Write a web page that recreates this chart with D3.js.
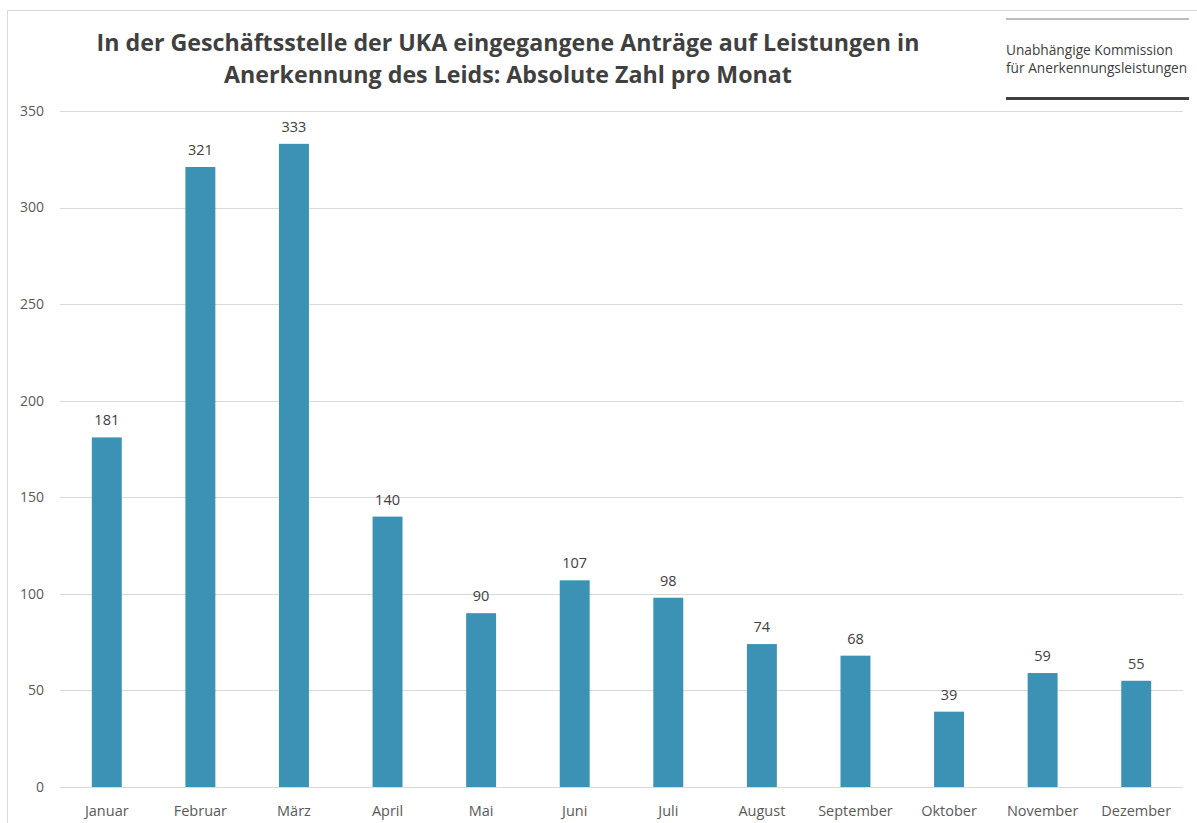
<!DOCTYPE html>
<html>
<head>
<meta charset="utf-8">
<script src="https://cdn.jsdelivr.net/npm/d3@7"></script>
<style>
  body { margin:0; background:#fff; }
  svg { display:block; font-family:"Open Sans", "Noto Sans", sans-serif; }
</style>
</head>
<body>
<svg id="chart" width="1197" height="823"></svg>
<script>
// data
var months = ["Januar","Februar","März","April","Mai","Juni","Juli","August","September","Oktober","November","Dezember"];
var antraege = [181, 321, 333, 140, 90, 107, 98, 74, 68, 39, 59, 55];
var yTicks = [0, 50, 100, 150, 200, 250, 300, 350];
var titleLines = ["In der Geschäftsstelle der UKA eingegangene Anträge auf Leistungen in",
                  "Anerkennung des Leids: Absolute Zahl pro Monat"];
var logoLines = ["Unabhängige Kommission", "für Anerkennungsleistungen"];

var conf = {
    left: 60,
    right: 1183,
    top: 111,
    bottom: 787,
    barColor: "#3b92b4",
    gridColor: "#d9d9d9",
    textColor: "#595959"
};

var svg = d3.select("#chart");

// chart frame
svg.append("rect")
    .attr("x", 7.5).attr("y", 10.5)
    .attr("width", 1200).attr("height", 830)
    .attr("fill", "none")
    .attr("stroke", "#d9d9d9");

var x = d3.scaleBand()
    .domain(months)
    .range([conf.left, conf.right])
    .paddingInner(0.68)
    .paddingOuter(0.34);

var y = d3.scaleLinear()
    .domain([0, 350])
    .range([conf.bottom, conf.top]);

// gridlines
svg.append("g")
    .selectAll("line")
    .data(yTicks)
    .join("line")
    .attr("x1", conf.left)
    .attr("x2", conf.right)
    .attr("y1", function(d){ return Math.round(y(d)) + 0.5; })
    .attr("y2", function(d){ return Math.round(y(d)) + 0.5; })
    .attr("stroke", conf.gridColor)
    .attr("stroke-width", 1);

// y axis labels
svg.append("g")
    .selectAll("text")
    .data(yTicks)
    .join("text")
    .attr("x", 44)
    .attr("y", function(d){ return y(d); })
    .attr("dy", "0.35em")
    .attr("text-anchor", "end")
    .attr("font-size", 14)
    .attr("fill", conf.textColor)
    .text(function(d){ return d; });

// bars
svg.append("g")
    .selectAll("rect")
    .data(antraege)
    .join("rect")
    .attr("x", function(d, i){ return x(months[i]); })
    .attr("y", function(d){ return y(d); })
    .attr("width", x.bandwidth())
    .attr("height", function(d){ return conf.bottom - y(d); })
    .attr("fill", conf.barColor);

// value labels
svg.append("g")
    .selectAll("text")
    .data(antraege)
    .join("text")
    .attr("x", function(d, i){ return x(months[i]) + x.bandwidth()/2; })
    .attr("y", function(d){ return y(d) - 12; })
    .attr("text-anchor", "middle")
    .attr("font-size", 14.5)
    .attr("fill", "#404040")
    .text(function(d){ return d; });

// x axis labels
svg.append("g")
    .selectAll("text")
    .data(months)
    .join("text")
    .attr("x", function(d){ return x(d) + x.bandwidth()/2; })
    .attr("y", 816)
    .attr("text-anchor", "middle")
    .attr("font-size", 14.5)
    .attr("fill", conf.textColor)
    .text(function(d){ return d; });

// title
svg.append("g")
    .selectAll("text")
    .data(titleLines)
    .join("text")
    .attr("x", 508)
    .attr("y", function(d, i){ return 51 + i*32; })
    .attr("text-anchor", "middle")
    .attr("font-size", 23.2)
    .attr("font-weight", "bold")
    .attr("fill", "#404040")
    .text(function(d){ return d; });

// logo block
var logo = svg.append("g");
logo.append("line")
    .attr("x1", 1006).attr("x2", 1189)
    .attr("y1", 19).attr("y2", 19)
    .attr("stroke", "#a6a6a6").attr("stroke-width", 1.5);
logo.append("line")
    .attr("x1", 1006).attr("x2", 1189)
    .attr("y1", 98.5).attr("y2", 98.5)
    .attr("stroke", "#404040").attr("stroke-width", 3);
logo.selectAll("text")
    .data(logoLines)
    .join("text")
    .attr("x", 1006)
    .attr("y", function(d, i){ return 55 + i*18; })
    .attr("font-size", 13.7)
    .attr("fill", "#404040")
    .text(function(d){ return d; });
</script>
</body>
</html>
